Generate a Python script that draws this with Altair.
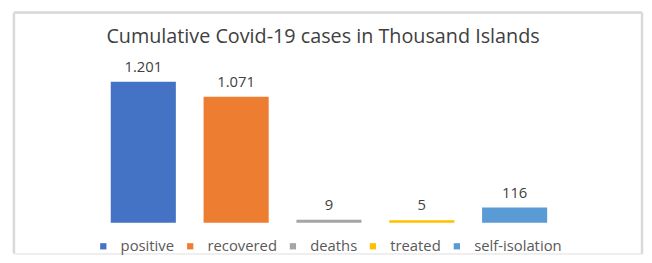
import altair as alt
import pandas as pd

categories = ["positive", "recovered", "deaths", "treated", "self-isolation"]
values = [1201, 1071, 9, 5, 116]
colors = ["#4472C4", "#ED7D31", "#A5A5A5", "#FFC000", "#5B9BD5"]
title_text = "Cumulative Covid-19 cases in Thousand Islands"

FONT = "Open Sans"
labels = [f"{v:,}".replace(",", ".") for v in values]
df = pd.DataFrame({"category": categories, "value": values, "label": labels})

W, H = 636, 244

xenc = alt.X("category:N", sort=categories, axis=None,
             scale=alt.Scale(range=[84, 554], paddingInner=0.32, paddingOuter=0.16))
yenc = alt.Y("value:Q", axis=None, scale=alt.Scale(domain=[0, 1201], range=[212, 71]))

color_scale = alt.Scale(domain=categories, range=colors)

bars = alt.Chart(df).mark_bar(strokeWidth=2).encode(
    x=xenc,
    y=yenc,
    color=alt.Color(
        "category:N", scale=color_scale, sort=categories,
        legend=alt.Legend(
            orient="none", legendX=83, legendY=229, direction="horizontal",
            title=None, symbolType="square", symbolSize=40, labelFontSize=15,
            labelFont=FONT, labelColor="#595959", labelOffset=10,
            columnPadding=8, padding=0, symbolStrokeWidth=0,
        ),
    ),
    stroke=alt.Stroke("category:N", scale=color_scale, legend=None),
)

text = alt.Chart(df).mark_text(
    baseline="bottom", dy=-8, fontSize=15, color="#404040", font=FONT
).encode(x=xenc, y=yenc, text="label:N")

frame_data = alt.Data(values=[{}])
border = "#d9d9d9"
left = alt.Chart(frame_data).mark_rule(color=border, strokeWidth=2.5).encode(
    x=alt.value(0), y=alt.value(0), y2=alt.value(H))
top = alt.Chart(frame_data).mark_rule(color=border, strokeWidth=2.5).encode(
    x=alt.value(0), x2=alt.value(W), y=alt.value(0))
right = alt.Chart(frame_data).mark_rule(color=border, strokeWidth=2.5).encode(
    x=alt.value(W), y=alt.value(0), y2=alt.value(H))

chart = alt.layer(bars, text, left, top, right).properties(
    width=W, height=H,
    padding={"left": 6, "top": 3, "right": 2, "bottom": 0},
    autosize="none",
    title=alt.TitleParams(
        text=title_text, anchor="middle", fontSize=20, font=FONT,
        fontWeight="normal", color="#404040", dy=36, dx=-5, offset=0,
    ),
).configure_view(stroke=None).configure(background="white")

chart.save("out.html", embed_options={"renderer": "svg", "actions": False})
